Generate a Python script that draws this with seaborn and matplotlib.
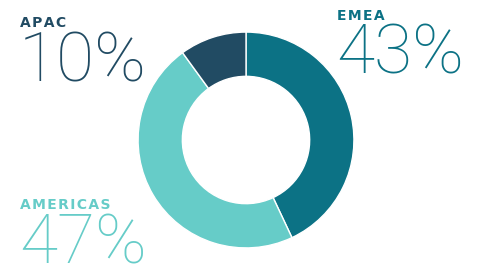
import seaborn as sns
import matplotlib.pyplot as plt

regions = ["EMEA", "AMERICAS", "APAC"]
shares = [43, 47, 10]
colors = ["#0C7285", "#66CCC8", "#214B63"]

sns.set_theme(style="white")
plt.rcParams['font.family'] = ['Roboto', 'DejaVu Sans']

fig = plt.figure(figsize=(4.83, 2.73), dpi=100)
W, H = 483, 273

# donut axes, centered at (246, 140) px, radius ~109 px
ax = fig.add_axes([(246 - 109) / W, (273 - 140 - 109) / H, 218 / W, 218 / H])
ax.pie(shares, colors=colors, startangle=90, counterclock=False,
       wedgeprops=dict(width=0.41, edgecolor="white", linewidth=1))
ax.set_xlim(-1.01, 1.01)
ax.set_ylim(-1.01, 1.01)
ax.set_aspect("equal")
ax.axis("off")


def px(x, y):
    return x / W, 1 - y / H


# label positions (x, label baseline, number baseline) in pixels
spots = {"APAC": (19, 27, 82), "EMEA": (336, 20, 74), "AMERICAS": (19, 209, 264)}
for name, share, col in zip(regions, shares, colors):
    x, yl, yn = spots[name]
    spaced = "\u200a".join(name)  # letter-spaced label
    fig.text(*px(x + 1, yl), spaced, color=col, fontsize=10, fontweight="bold",
             family=['DejaVu Sans'], va="baseline", ha="left")
    fig.text(*px(x, yn), f"{share}%", color=col, fontsize=50, fontweight="light",
             va="baseline", ha="left")

fig.savefig("out.png", dpi=100, facecolor="white")
